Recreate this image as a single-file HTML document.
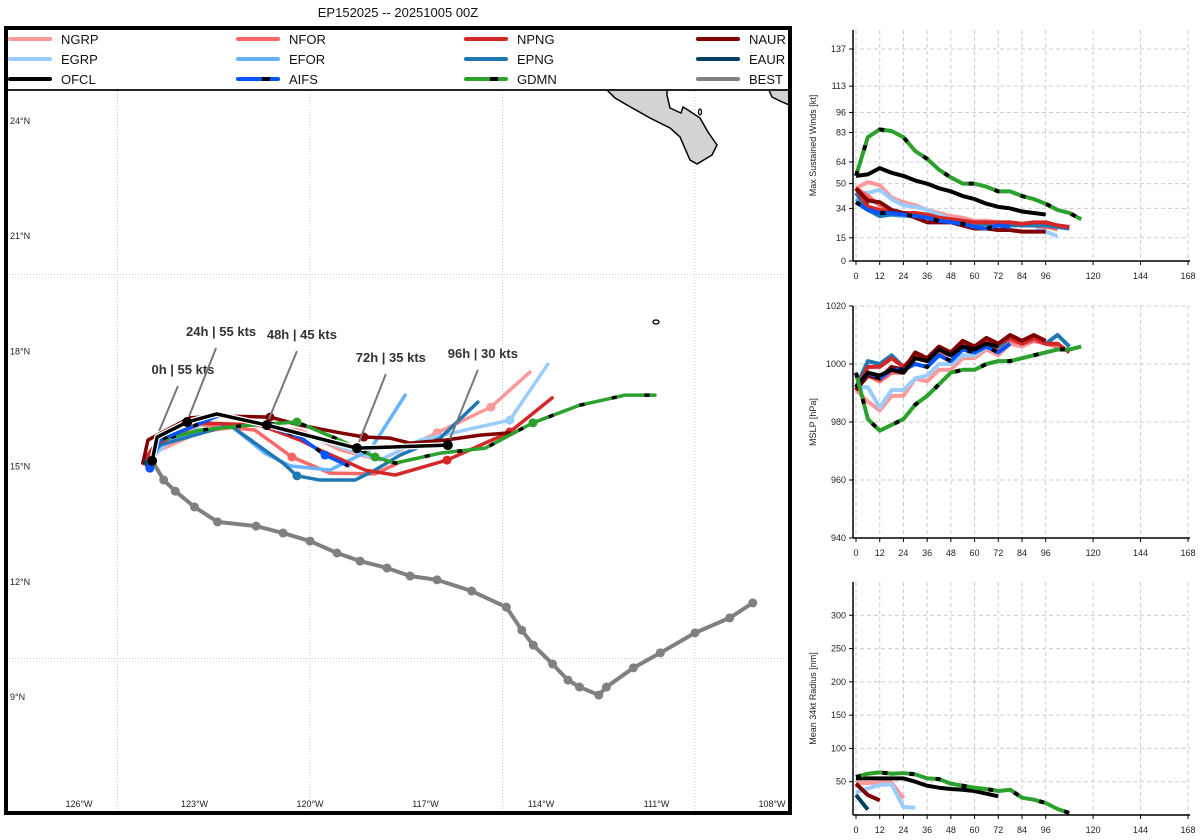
<!DOCTYPE html>
<html><head><meta charset="utf-8">
<style>
html,body{margin:0;padding:0;background:#fff;}
svg{display:block;font-family:"Liberation Sans","DejaVu Sans",sans-serif;}
.tk{font-size:9px;fill:#222;}
.lbl{font-size:13px;font-weight:bold;fill:#333;stroke:#fff;stroke-width:3px;paint-order:stroke;}
</style></head>
<body>
<svg id="chart" width="1200" height="840" viewBox="0 0 1200 840" xmlns="http://www.w3.org/2000/svg">
<text x="398" y="17" text-anchor="middle" font-size="13" fill="#111">EP152025 -- 20251005 00Z</text>
<g id="map"></g>
<g id="panels"></g>
</svg>
<script>
// ---------- MAP DATA (lon, lat) ----------
const lonTicks = [-126,-123,-120,-117,-114,-111,-108];
const latTicks = [24,21,18,15,12,9];
const models = ["NGRP","EGRP","OFCL","NFOR","EFOR","AIFS","NPNG","EPNG","GDMN","NAUR","EAUR","BEST"];
const colors = {NGRP:"#ff9999",EGRP:"#99ccff",OFCL:"#000000",NFOR:"#ff6666",EFOR:"#66b3ff",AIFS:"#0055ff",NPNG:"#d62728",EPNG:"#1f77b4",GDMN:"#2ca02c",NAUR:"#800000",EAUR:"#004060",BEST:"#808080"};
const dashed = {AIFS:true,GDMN:true};

const bestLon = [-124.1,-123.8,-123.5,-123.0,-122.4,-121.4,-120.7,-120.0,-119.3,-118.7,-118.0,-117.4,-116.7,-115.8,-114.9,-114.5,-114.2,-113.7,-113.3,-113.0,-112.5,-112.3,-111.6,-110.9,-110.0,-109.1,-108.5];
const bestLat = [15.15,14.65,14.36,13.95,13.56,13.45,13.27,13.06,12.75,12.54,12.36,12.15,12.05,11.76,11.34,10.74,10.35,9.86,9.44,9.26,9.05,9.26,9.76,10.15,10.67,11.06,11.45];

const ngrpLon = [-124.29,-123.9,-122.86,-121.56,-120.26,-119.22,-118.18,-116.7,-115.3,-114.29];
const ngrpLat = [15.04,15.43,15.9,16.08,15.95,15.43,15.17,15.88,16.55,17.46];
const egrpLon = [-124.16,-123.77,-122.86,-121.3,-119.74,-118.18,-117.14,-114.81,-113.82];
const egrpLat = [15.17,15.56,16.08,16.08,15.69,15.17,15.69,16.21,17.67];
const nforLon = [-124.29,-123.84,-122.86,-121.43,-120.47,-119.48,-118.31,-117.66];
const nforLat = [15.17,15.69,16.11,15.95,15.25,14.83,14.81,15.12];
const eforLon = [-124.16,-123.77,-122.08,-121.17,-120.52,-119.48,-118.44,-117.53];
const eforLat = [15.17,15.69,16.08,15.35,15.02,14.91,15.43,16.86];
const aifsLon = [-124.16,-123.9,-122.34,-121.17,-120.26,-119.61,-119.01];
const aifsLat = [14.96,15.69,16.34,16.08,15.77,15.3,15.02];
const npngLon = [-124.34,-124.03,-122.86,-121.3,-120.26,-119.74,-118.57,-117.79,-116.44,-114.81,-113.71];
const npngLat = [15.12,15.56,16.14,16.08,15.69,15.43,14.91,14.78,15.17,15.9,16.79];
const epngLon = [-124.29,-123.9,-122.08,-120.7,-120.34,-119.74,-118.83,-118.31,-117.66,-116.62,-115.64];
const epngLat = [15.12,15.56,16.08,15.09,14.76,14.65,14.65,14.91,15.3,15.74,16.68];
const gdmnLon = [-124.1,-123.9,-122.86,-121.56,-120.34,-119.22,-118.31,-117.79,-116.62,-115.45,-114.21,-112.99,-111.82,-111.04];
const gdmnLat = [15.17,15.69,15.95,16.08,16.16,15.69,15.25,15.09,15.35,15.48,16.14,16.6,16.86,16.86];
const naurLon = [-124.34,-124.21,-123.12,-122.42,-121.04,-120.26,-119.22,-118.6,-117.92,-117.4,-116.49,-115.58,-114.81];
const naurLat = [15.09,15.69,16.27,16.32,16.29,16.08,15.88,15.77,15.74,15.61,15.69,15.82,15.88];
const eaurLon = [-124.29,-124.16];
const eaurLat = [15.12,14.91];
const ofclLon = [-124.1,-123.97,-123.19,-122.42,-121.12,-118.78,-116.42];
const ofclLat = [15.15,15.77,16.16,16.37,16.08,15.48,15.56];

const trackLon = {NGRP:ngrpLon,EGRP:egrpLon,NFOR:nforLon,EFOR:eforLon,AIFS:aifsLon,NPNG:npngLon,EPNG:epngLon,GDMN:gdmnLon,NAUR:naurLon,EAUR:eaurLon,OFCL:ofclLon,BEST:bestLon};
const trackLat = {NGRP:ngrpLat,EGRP:egrpLat,NFOR:nforLat,EFOR:eforLat,AIFS:aifsLat,NPNG:npngLat,EPNG:epngLat,GDMN:gdmnLat,NAUR:naurLat,EAUR:eaurLat,OFCL:ofclLat,BEST:bestLat};
const markerIdx = {NGRP:[7,8],EGRP:[7],NFOR:[4],EFOR:[],AIFS:[0,5],NPNG:[8,9],EPNG:[4],GDMN:[4,6,10],NAUR:[4,7],EAUR:[],OFCL:[0,2,4,5,6]};
const labelText = ["0h | 55 kts","24h | 55 kts","48h | 45 kts","72h | 35 kts","96h | 30 kts"];
const labelLon = [-123.30,-122.31,-120.21,-117.90,-115.51];
const labelLat = [17.41,18.40,18.32,17.72,17.83];
const labelIdx = [1,2,4,5,6];

// ---------- PANEL DATA ----------
const hourTicks = [0,12,24,36,48,60,72,84,96,120,144,168];
const windTicks = [0,15,34,50,64,83,96,113,137];
const mslpTicks = [940,960,980,1000,1020];
const radTicks = [50,100,150,200,250,300];
const hrs6 = [0,6,12,18,24,30,36,42,48,54,60,66,72,78,84,90,96,102,108,114];

const windVals = {
 NGRP:[47,51,49,41,38,36,33,31,29,28,26,26,25,25,24,24,23,20],
 EGRP:[44,44,46,40,36,35,33,30,27,26,25,25,24,24,23,23,19,16],
 NFOR:[47,42,36,33,31,30,29,28,27,26,25,25,24,24,23,23,22,21],
 EFOR:[40,34,30,30,29,29,28,27,26,25,24,24,23],
 NPNG:[47,35,33,32,31,31,30,28,27,26,25,25,25,25,24,25,25,23,22],
 EPNG:[44,33,29,30,30,29,28,27,26,25,24,24,24,23,23,23,23,22,21],
 NAUR:[47,39,38,33,31,28,25,25,25,23,21,21,20,20,19,19,19],
 EAUR:[44,36],
 AIFS:[38,33,31,31,30,29,28,26,25,24,22,21,23,22],
 GDMN:[55,80,85,84,80,71,66,59,54,50,50,48,45,45,42,40,37,33,31,27],
 OFCL:[55,56,60,57,55,52,50,47,45,42,40,37,35,34,32,31,30]
};
const mslpVals = {
 NGRP:[991,987,984,989,989,995,994,998,998,1002,1002,1005,1003,1007,1006,1008,1007],
 EGRP:[992,992,985,991,991,995,996,1000,1000,1003,1003,1006,1004,1008,1007],
 NFOR:[992,996,994,997,997,1002,1001,1004,1003,1006,1005,1007,1005,1008,1007,1008,1007,1006],
 NPNG:[991,999,999,1002,999,1003,1002,1005,1004,1007,1006,1008,1007,1009,1007,1009,1007,1007,1004],
 EPNG:[992,1001,1000,1003,999,1003,1001,1005,1003,1007,1005,1008,1006,1009,1007,1009,1007,1010,1006],
 NAUR:[991,996,995,999,998,1004,1002,1006,1004,1008,1006,1009,1007,1010,1008,1010,1008],
 AIFS:[992,997,995,998,998,1000,999,1003,1001,1005,1004,1006,1004,1007],
 OFCL:[992,997,996,998,997,1002,1001,1005,1003,1006,1005,1007,1006],
 GDMN:[997,981,977,979,981,986,989,993,997,998,998,1000,1001,1001,1002,1003,1004,1005,1005,1006]
};
const radVals = {
 NGRP:[48,48,49,49,25],
 EGRP:[34,40,45,46,12,11],
 NAUR:[47,30,22],
 EAUR:[30,8],
 OFCL:[55,55,55,55,55,50,44,41,39,38,36,32,28],
 GDMN:[57,62,64,62,63,61,55,54,47,44,41,39,36,38,26,23,18,9,3]
};
const panelOrder = ["NGRP","EGRP","NFOR","EFOR","EAUR","EPNG","NPNG","NAUR","AIFS","OFCL","GDMN"];

// ---------- helpers ----------
const NS="http://www.w3.org/2000/svg";
function mk(tag, attrs, parent){const e=document.createElementNS(NS,tag);for(const k in attrs)e.setAttribute(k,attrs[k]);parent.appendChild(e);return e;}
const mapG=document.getElementById('map');
const panG=document.getElementById('panels');
function mx(lon){return 79+(lon+126)*38.5;}
function my(lat){return 121+(24-lat)*38.4;}

const defs=mk('defs',{},mapG);
const cp=mk('clipPath',{id:'mapclip'},defs);
mk('rect',{x:6,y:28,width:784,height:785},cp);
const inner=mk('g',{'clip-path':'url(#mapclip)'},mapG);

[-125,-120,-115,-110].forEach(function(lon){
 const l=mk('line',{x1:mx(lon),x2:mx(lon),y1:28,y2:813,stroke:'#bbb','stroke-width':0.7,'stroke-dasharray':'1 2'},inner);
 
 
});
[20,10].forEach(function(lat){
 const l=mk('line',{x1:6,x2:790,y1:my(lat),y2:my(lat),stroke:'#bbb','stroke-width':0.7,'stroke-dasharray':'1 2'},inner);
 
 
});

const baja=mk('polygon',{points:'598,88 607,90 615,98 627,105 650,118 670,128 680,137 690,160 697,164 712,155 717,145 708,132 700,118 688,110 683,107 681,113 670,108 667,95 667,88',fill:'#d3d3d3',stroke:'#000','stroke-width':1.5},inner);


const mainland=mk('polygon',{points:'768,88 772,97 782,102 792,106 792,88',fill:'#d3d3d3',stroke:'#000','stroke-width':1.5},inner);


const isl=mk('ellipse',{cx:656,cy:322,rx:3,ry:2,fill:'#fff',stroke:'#000','stroke-width':1.3},inner);


const isl2=mk('ellipse',{cx:700,cy:112,rx:1.5,ry:3,fill:'#fff',stroke:'#000','stroke-width':1.3},inner);



lonTicks.forEach(function(lon){
 const t=mk('text',{x:mx(lon),y:807,'text-anchor':'middle',class:'tk'},inner);
 t.textContent=Math.abs(lon)+'°W';
 
 
});
latTicks.forEach(function(lat){
 const t=mk('text',{x:10,y:my(lat)+3,class:'tk'},inner);
 t.textContent=lat+'°N';
 
 
});

const drawOrder=["BEST","NGRP","EGRP","NFOR","EFOR","EPNG","NPNG","NAUR","EAUR","GDMN","AIFS","OFCL"];
drawOrder.forEach(function(m){
 const lo=trackLon[m], la=trackLat[m];
 const pts=lo.map(function(v,i){return mx(v)+','+my(la[i]);}).join(' ');
 const g=mk('g',{},inner);
 
 
 if(m==='OFCL'){mk('polyline',{points:pts,fill:'none',stroke:'#fff','stroke-width':6,'stroke-linejoin':'round'},g);}
 mk('polyline',{points:pts,fill:'none',stroke:colors[m],'stroke-width':m==='BEST'?4:3.5,'stroke-linejoin':'round','stroke-linecap':'round'},g);
 if(dashed[m]) mk('polyline',{points:pts,fill:'none',stroke:'#000','stroke-width':3.5,'stroke-dasharray':'5 28'},g);
 if(m==='BEST'){
  lo.forEach(function(v,i){
   const c=mk('circle',{cx:mx(v),cy:my(la[i]),r:4.5,fill:colors[m]},g);
   
   
  });
 } else {
  (markerIdx[m]||[]).forEach(function(i){
   const c=mk('circle',{cx:mx(lo[i]),cy:my(la[i]),r:m==='OFCL'?5:4.5,fill:colors[m]},g);
   
   
  });
 }
});

labelText.forEach(function(s,i){
 const px=mx(ofclLon[labelIdx[i]]), py=my(ofclLat[labelIdx[i]]);
 const lx=mx(labelLon[i]), ly=my(labelLat[i]);
 const ln=mk('line',{x1:lx-5,y1:ly+12,x2:px+2,y2:py-6,stroke:'#777','stroke-width':2},inner);
 
 
 const t=mk('text',{x:lx,y:ly,'text-anchor':'middle',class:'lbl'},inner);
 t.textContent=s;
 
 
});

const lg=mk('g',{},mapG);


mk('rect',{x:6,y:28,width:784,height:62,fill:'#fff',stroke:'#222','stroke-width':2},lg);
const legendCols=[["NGRP","EGRP","OFCL"],["NFOR","EFOR","AIFS"],["NPNG","EPNG","GDMN"],["NAUR","EAUR","BEST"]];
const colX=[10,238,466,698];
legendCols.forEach(function(col,ci){
 col.forEach(function(m,ri){
  const y=39+ri*20;
  const e=mk('g',{},lg);
  
  
  mk('line',{x1:colX[ci],x2:colX[ci]+40,y1:y,y2:y,stroke:colors[m],'stroke-width':4,'stroke-linecap':'round'},e);
  if(dashed[m]) mk('line',{x1:colX[ci]+24,x2:colX[ci]+32,y1:y,y2:y,stroke:'#000','stroke-width':4},e);
  const t=mk('text',{x:colX[ci]+51,y:y+5,'font-size':13,fill:'#111'},e);
  t.textContent=m;
 });
});
const frame=mk('rect',{x:6,y:28,width:784,height:785,fill:'none',stroke:'#000','stroke-width':4},mapG);



function hx(h){return 856+h*1.976;}
function panel(name,top,bottom,vmin,vmax,ticks,title,vals){
 const g=mk('g',{},panG);
 
 
 const vy=function(v){return bottom-(v-vmin)/(vmax-vmin)*(bottom-top);};
 hourTicks.forEach(function(h){
  mk('line',{x1:hx(h),x2:hx(h),y1:top,y2:bottom,stroke:'#ccc','stroke-width':1,'stroke-dasharray':'4 3'},g);
  mk('line',{x1:hx(h),x2:hx(h),y1:bottom,y2:bottom+4,stroke:'#000','stroke-width':1},g);
  const t=mk('text',{x:hx(h),y:bottom+18,'text-anchor':'middle',class:'tk'},g);
  t.textContent=h;
  
  
 });
 ticks.forEach(function(v){
  mk('line',{x1:853,x2:1190,y1:vy(v),y2:vy(v),stroke:'#ccc','stroke-width':1,'stroke-dasharray':'4 3'},g);
  mk('line',{x1:849,x2:853,y1:vy(v),y2:vy(v),stroke:'#000','stroke-width':1},g);
  const t=mk('text',{x:846,y:vy(v)+3,'text-anchor':'end',class:'tk'},g);
  t.textContent=v;
  
  
 });
 const yt=mk('text',{x:0,y:0,'text-anchor':'middle',class:'tk',transform:'translate(816,'+((top+bottom)/2)+') rotate(-90)'},g);
 yt.textContent=title;
 
 
 panelOrder.forEach(function(m){
  const arr=vals[m]; if(!arr) return;
  const pts=arr.map(function(v,i){return hx(hrs6[i])+','+vy(v);}).join(' ');
  const s=mk('g',{},g);
  
  
  mk('polyline',{points:pts,fill:'none',stroke:colors[m],'stroke-width':4,'stroke-linejoin':'round'},s);
  if(dashed[m]) mk('polyline',{points:pts,fill:'none',stroke:'#000','stroke-width':4,'stroke-dasharray':'5 22'},s);
 });
 mk('line',{x1:853,x2:853,y1:top,y2:bottom,stroke:'#000','stroke-width':1.5},g);
 mk('line',{x1:853,x2:1190,y1:bottom,y2:bottom,stroke:'#000','stroke-width':1.5},g);
}
panel('wind-panel',30,261,0,137*231/212,windTicks,'Max Sustained Winds [kt]',windVals);
panel('mslp-panel',306,538,940,1020,mslpTicks,'MSLP [hPa]',mslpVals);
panel('radius-panel',582,815,0,350,radTicks,'Mean 34kt Radius [nm]',radVals);
</script>
</body></html>
